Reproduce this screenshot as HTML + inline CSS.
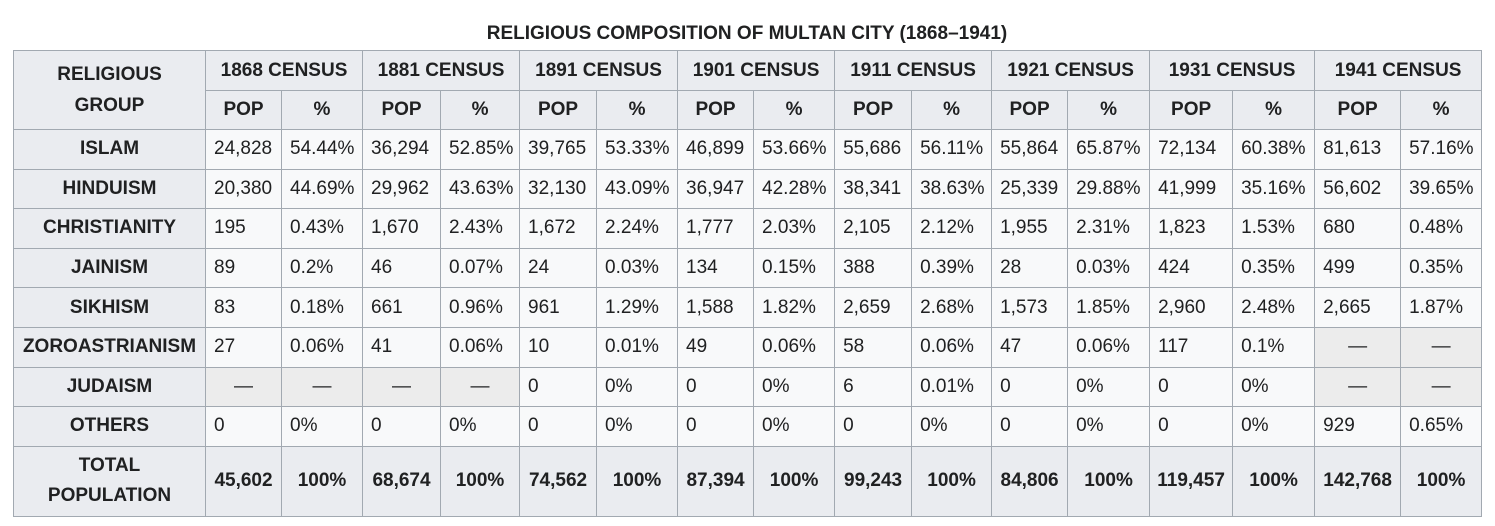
<!DOCTYPE html>
<html><head><meta charset="utf-8"><style>
body{margin:0;background:#fff;font-family:"Liberation Sans",Arial,sans-serif;color:#202122;font-size:19px;}
.cap{position:absolute;left:13px;width:1468px;top:22px;text-align:center;font-weight:bold;font-size:19px;line-height:24px;}
table{position:absolute;left:13px;top:50px;border-collapse:collapse;table-layout:fixed;width:1469px;background:#f8f9fa;font-size:19px;}
td,th{border:1px solid #a2a9b1;padding:0 0 0 8px;text-align:left;font-weight:normal;white-space:nowrap;overflow:hidden;}
th{background:#eaecf0;font-weight:bold;text-align:center;padding:0;}
tr.h1 th{height:39px}
tr.h2 th{height:38px}
tr.d td,tr.d th{height:38.6px}
tr.t td,tr.t th{height:69px;font-weight:bold;text-align:center;padding:0;background:#eaecf0}
tr.t th{line-height:30px}
td.g{background:#ececec;text-align:center;padding:0}
</style></head><body>
<div class="cap">RELIGIOUS COMPOSITION OF MULTAN CITY (1868–1941)</div>
<table>
<colgroup><col style="width:192px"><col style="width:76px"><col style="width:81px"><col style="width:78px"><col style="width:79px"><col style="width:77px"><col style="width:81px"><col style="width:76px"><col style="width:81px"><col style="width:77px"><col style="width:80px"><col style="width:76px"><col style="width:82px"><col style="width:83px"><col style="width:82px"><col style="width:86px"><col style="width:81px"></colgroup>
<tr class="h1"><th rowspan="2" style="line-height:31px">RELIGIOUS<br>GROUP</th><th colspan="2">1868 CENSUS</th><th colspan="2">1881 CENSUS</th><th colspan="2">1891 CENSUS</th><th colspan="2">1901 CENSUS</th><th colspan="2">1911 CENSUS</th><th colspan="2">1921 CENSUS</th><th colspan="2">1931 CENSUS</th><th colspan="2">1941 CENSUS</th></tr>
<tr class="h2"><th>POP</th><th>%</th><th>POP</th><th>%</th><th>POP</th><th>%</th><th>POP</th><th>%</th><th>POP</th><th>%</th><th>POP</th><th>%</th><th>POP</th><th>%</th><th>POP</th><th>%</th></tr>
<tr class="d"><th>ISLAM</th><td>24,828</td><td>54.44%</td><td>36,294</td><td>52.85%</td><td>39,765</td><td>53.33%</td><td>46,899</td><td>53.66%</td><td>55,686</td><td>56.11%</td><td>55,864</td><td>65.87%</td><td>72,134</td><td>60.38%</td><td>81,613</td><td>57.16%</td></tr>
<tr class="d"><th>HINDUISM</th><td>20,380</td><td>44.69%</td><td>29,962</td><td>43.63%</td><td>32,130</td><td>43.09%</td><td>36,947</td><td>42.28%</td><td>38,341</td><td>38.63%</td><td>25,339</td><td>29.88%</td><td>41,999</td><td>35.16%</td><td>56,602</td><td>39.65%</td></tr>
<tr class="d"><th>CHRISTIANITY</th><td>195</td><td>0.43%</td><td>1,670</td><td>2.43%</td><td>1,672</td><td>2.24%</td><td>1,777</td><td>2.03%</td><td>2,105</td><td>2.12%</td><td>1,955</td><td>2.31%</td><td>1,823</td><td>1.53%</td><td>680</td><td>0.48%</td></tr>
<tr class="d"><th>JAINISM</th><td>89</td><td>0.2%</td><td>46</td><td>0.07%</td><td>24</td><td>0.03%</td><td>134</td><td>0.15%</td><td>388</td><td>0.39%</td><td>28</td><td>0.03%</td><td>424</td><td>0.35%</td><td>499</td><td>0.35%</td></tr>
<tr class="d"><th>SIKHISM</th><td>83</td><td>0.18%</td><td>661</td><td>0.96%</td><td>961</td><td>1.29%</td><td>1,588</td><td>1.82%</td><td>2,659</td><td>2.68%</td><td>1,573</td><td>1.85%</td><td>2,960</td><td>2.48%</td><td>2,665</td><td>1.87%</td></tr>
<tr class="d"><th>ZOROASTRIANISM</th><td>27</td><td>0.06%</td><td>41</td><td>0.06%</td><td>10</td><td>0.01%</td><td>49</td><td>0.06%</td><td>58</td><td>0.06%</td><td>47</td><td>0.06%</td><td>117</td><td>0.1%</td><td class="g">—</td><td class="g">—</td></tr>
<tr class="d"><th>JUDAISM</th><td class="g">—</td><td class="g">—</td><td class="g">—</td><td class="g">—</td><td>0</td><td>0%</td><td>0</td><td>0%</td><td>6</td><td>0.01%</td><td>0</td><td>0%</td><td>0</td><td>0%</td><td class="g">—</td><td class="g">—</td></tr>
<tr class="d"><th>OTHERS</th><td>0</td><td>0%</td><td>0</td><td>0%</td><td>0</td><td>0%</td><td>0</td><td>0%</td><td>0</td><td>0%</td><td>0</td><td>0%</td><td>0</td><td>0%</td><td>929</td><td>0.65%</td></tr>
<tr class="t"><th>TOTAL<br>POPULATION</th><td>45,602</td><td>100%</td><td>68,674</td><td>100%</td><td>74,562</td><td>100%</td><td>87,394</td><td>100%</td><td>99,243</td><td>100%</td><td>84,806</td><td>100%</td><td>119,457</td><td>100%</td><td>142,768</td><td>100%</td></tr>
</table>
</body></html>
